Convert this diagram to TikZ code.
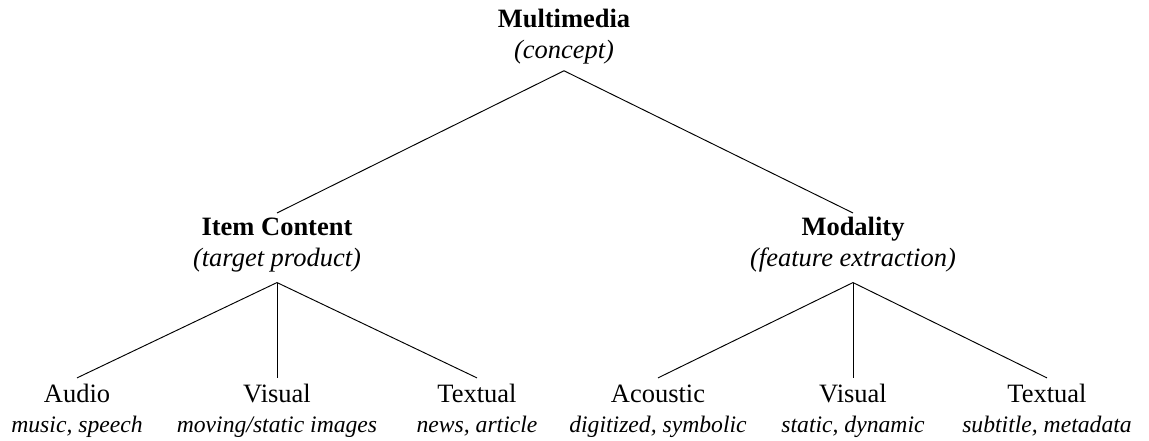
\documentclass[tikz,border=0pt]{standalone}
\usepackage{fontspec}
\setmainfont{Liberation Serif}
\usepackage{tikz}

% name on top, italic note below, same first-line height everywhere
\newcommand{\headtext}[2]{\rule{0pt}{10pt}\textbf{#1}\\\textit{#2}}
\newcommand{\leaftext}[2]{\rule{0pt}{10pt}#1\\{\fontsize{12.5}{15.9}\selectfont\itshape #2}}

\tikzset{
    topnode/.style={inner sep=0pt, align=center, anchor=north, font=\fontsize{14}{16.4}\selectfont},
    leafnode/.style={inner sep=0pt, align=center, anchor=north, font=\fontsize{14}{15.9}\selectfont},
    branch/.style={line width=0.5pt}
}

\begin{document}
\begin{tikzpicture}[x=0.5286pt, y=-0.5286pt]
    \useasboundingbox (0, 0) rectangle (1149, 441);

    % The concept
    \node[topnode] (multimedia) at (564, 8) {\headtext{Multimedia}{(concept)}};

    % Its two views
    \node[topnode] (content) at (277, 216) {\headtext{Item Content}{(target product)}};
    \node[topnode] (modality) at (853, 216) {\headtext{Modality}{(feature extraction)}};

    % Item content leaves
    \node[leafnode] (audio) at (77, 383) {\leaftext{Audio}{music, speech}};
    \node[leafnode] (visualA) at (277, 383) {\leaftext{Visual}{moving/static images}};
    \node[leafnode] (textualA) at (477, 383) {\leaftext{Textual}{news, article}};

    % Modality leaves
    \node[leafnode] (acoustic) at (658, 383) {\leaftext{Acoustic}{digitized, symbolic}};
    \node[leafnode] (visualB) at (853, 383) {\leaftext{Visual}{static, dynamic}};
    \node[leafnode] (textualB) at (1047, 383) {\leaftext{Textual}{subtitle, metadata}};

    % Branches
    \foreach \child in {content, modality} {
        \draw[branch] ([yshift=-3.4pt]multimedia.south) -- ([yshift=1.6pt]\child.north);
    }
    \foreach \child in {audio, visualA, textualA} {
        \draw[branch] ([yshift=-5.4pt]content.south) -- ([yshift=2.7pt]\child.north);
    }
    \foreach \child in {acoustic, visualB, textualB} {
        \draw[branch] ([yshift=-5.4pt]modality.south) -- ([yshift=2.7pt]\child.north);
    }
\end{tikzpicture}
\end{document}
